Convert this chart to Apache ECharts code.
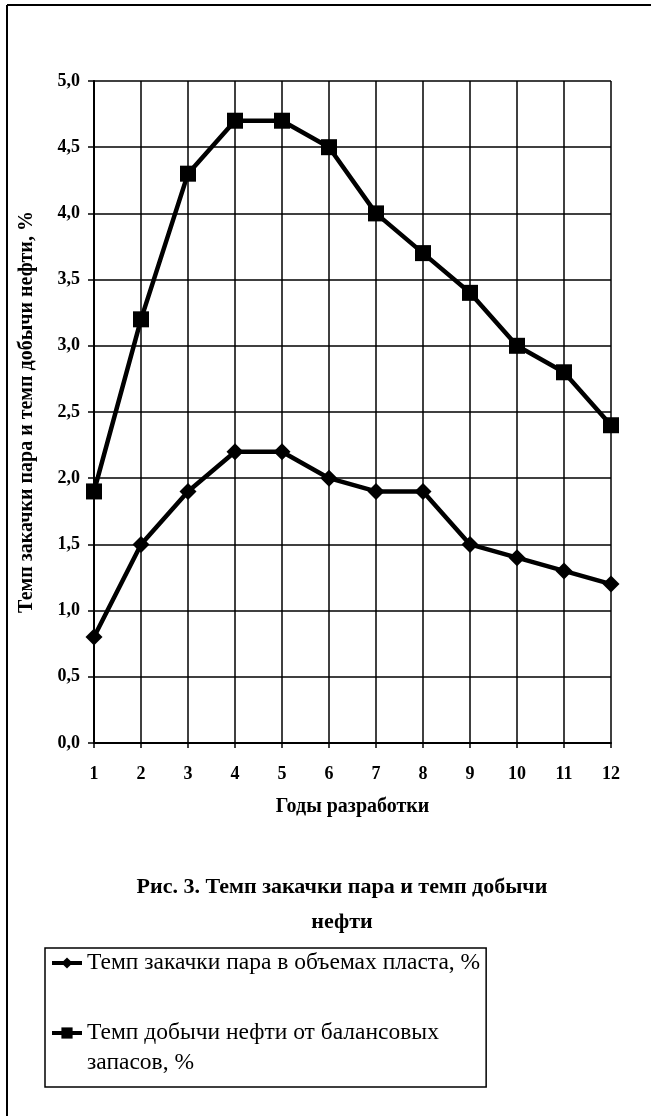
<!DOCTYPE html>
<html>
<head>
<meta charset="utf-8">
<script src="https://cdn.jsdelivr.net/npm/echarts@6/dist/echarts.min.js"></script>
<style>
  html, body { margin: 0; padding: 0; background: #fff; }
  #chart { width: 651px; height: 1116px; }
</style>
</head>
<body>
<div id="chart"></div>
<script>
// годы разработки
var years = ['1', '2', '3', '4', '5', '6', '7', '8', '9', '10', '11', '12'];
// темп закачки пара, %
var steamRate = [0.8, 1.5, 1.9, 2.2, 2.2, 2.0, 1.9, 1.9, 1.5, 1.4, 1.3, 1.2];
// темп добычи нефти, %
var oilRate = [1.9, 3.2, 4.3, 4.7, 4.7, 4.5, 4.0, 3.7, 3.4, 3.0, 2.8, 2.4];

var steamName = 'Темп закачки пара в объемах пласта, %';
var oilName = 'Темп добычи нефти от балансовых запасов, %';

var serif = '"Liberation Serif", "DejaVu Serif", serif';

var chart = echarts.init(document.getElementById('chart'));

var option = {
  backgroundColor: '#ffffff',
  animation: false,
  title: {
    text: 'Рис. 3. Темп закачки пара и темп добычи\nнефти',
    left: 342,
    top: 870,
    textAlign: 'center',
    padding: 0,
    textStyle: {
      fontFamily: serif,
      fontWeight: 'bold',
      fontSize: 22,
      lineHeight: 35,
      color: '#000'
    }
  },
  legend: {
    orient: 'vertical',
    left: 45,
    top: 948,
    height: 200,
    padding: [0, 6, 9, 5],
    itemGap: 10,
    itemWidth: 30,
    itemHeight: 14,
    borderColor: '#000',
    borderWidth: 1.5,
    borderRadius: 0,
    lineStyle: { width: 4 },
    data: [steamName, oilName],
    formatter: function (name) {
      // вторая подпись в две строки, значок у первой строки
      if (name === oilName) {
        return ' \nТемп добычи нефти от балансовых\nзапасов, %';
      }
      return name;
    },
    textStyle: {
      fontFamily: serif,
      fontSize: 23.5,
      lineHeight: 30,
      color: '#000'
    }
  },
  grid: {
    left: 94,
    right: 40,
    top: 81,
    bottom: 373,
    containLabel: false
  },
  xAxis: {
    type: 'category',
    data: years,
    boundaryGap: false,
    name: 'Годы разработки',
    nameLocation: 'middle',
    nameGap: 54,
    nameTextStyle: {
      fontFamily: serif,
      fontWeight: 'bold',
      fontSize: 20,
      color: '#000'
    },
    axisLine: { show: true, lineStyle: { color: '#000', width: 2 } },
    axisTick: { show: true, length: 5, alignWithLabel: true, lineStyle: { color: '#000', width: 1.5 } },
    axisLabel: {
      margin: 22,
      fontFamily: serif,
      fontWeight: 'bold',
      fontSize: 18,
      color: '#000'
    },
    splitLine: { show: true, lineStyle: { color: '#000', width: 1.5 } }
  },
  yAxis: {
    type: 'value',
    min: 0,
    max: 5,
    interval: 0.5,
    name: 'Темп закачки пара и темп добычи нефти, %',
    nameLocation: 'middle',
    nameGap: 57,
    nameTextStyle: {
      fontFamily: serif,
      fontWeight: 'bold',
      fontSize: 20,
      color: '#000'
    },
    axisLine: { show: true, lineStyle: { color: '#000', width: 2 } },
    axisTick: { show: true, length: 6, lineStyle: { color: '#000', width: 1.5 } },
    axisLabel: {
      margin: 14,
      fontFamily: serif,
      fontWeight: 'bold',
      fontSize: 18,
      color: '#000',
      formatter: function (v) {
        return v.toFixed(1).replace('.', ',');
      }
    },
    splitLine: { show: true, lineStyle: { color: '#000', width: 1.5 } }
  },
  graphic: [
    // рамка рисунка
    { type: 'line', shape: { x1: 7, y1: 5, x2: 651, y2: 5 }, style: { stroke: '#000', lineWidth: 2 } },
    { type: 'line', shape: { x1: 7, y1: 5, x2: 7, y2: 1116 }, style: { stroke: '#000', lineWidth: 2 } }
  ],
  series: [
    {
      name: steamName,
      type: 'line',
      data: steamRate,
      symbol: 'diamond',
      symbolSize: 17,
      lineStyle: { color: '#000', width: 4.5 },
      itemStyle: { color: '#000' }
    },
    {
      name: oilName,
      type: 'line',
      data: oilRate,
      symbol: 'rect',
      symbolSize: 16,
      lineStyle: { color: '#000', width: 4.5 },
      itemStyle: { color: '#000' }
    }
  ]
};

chart.setOption(option);
</script>
</body>
</html>
